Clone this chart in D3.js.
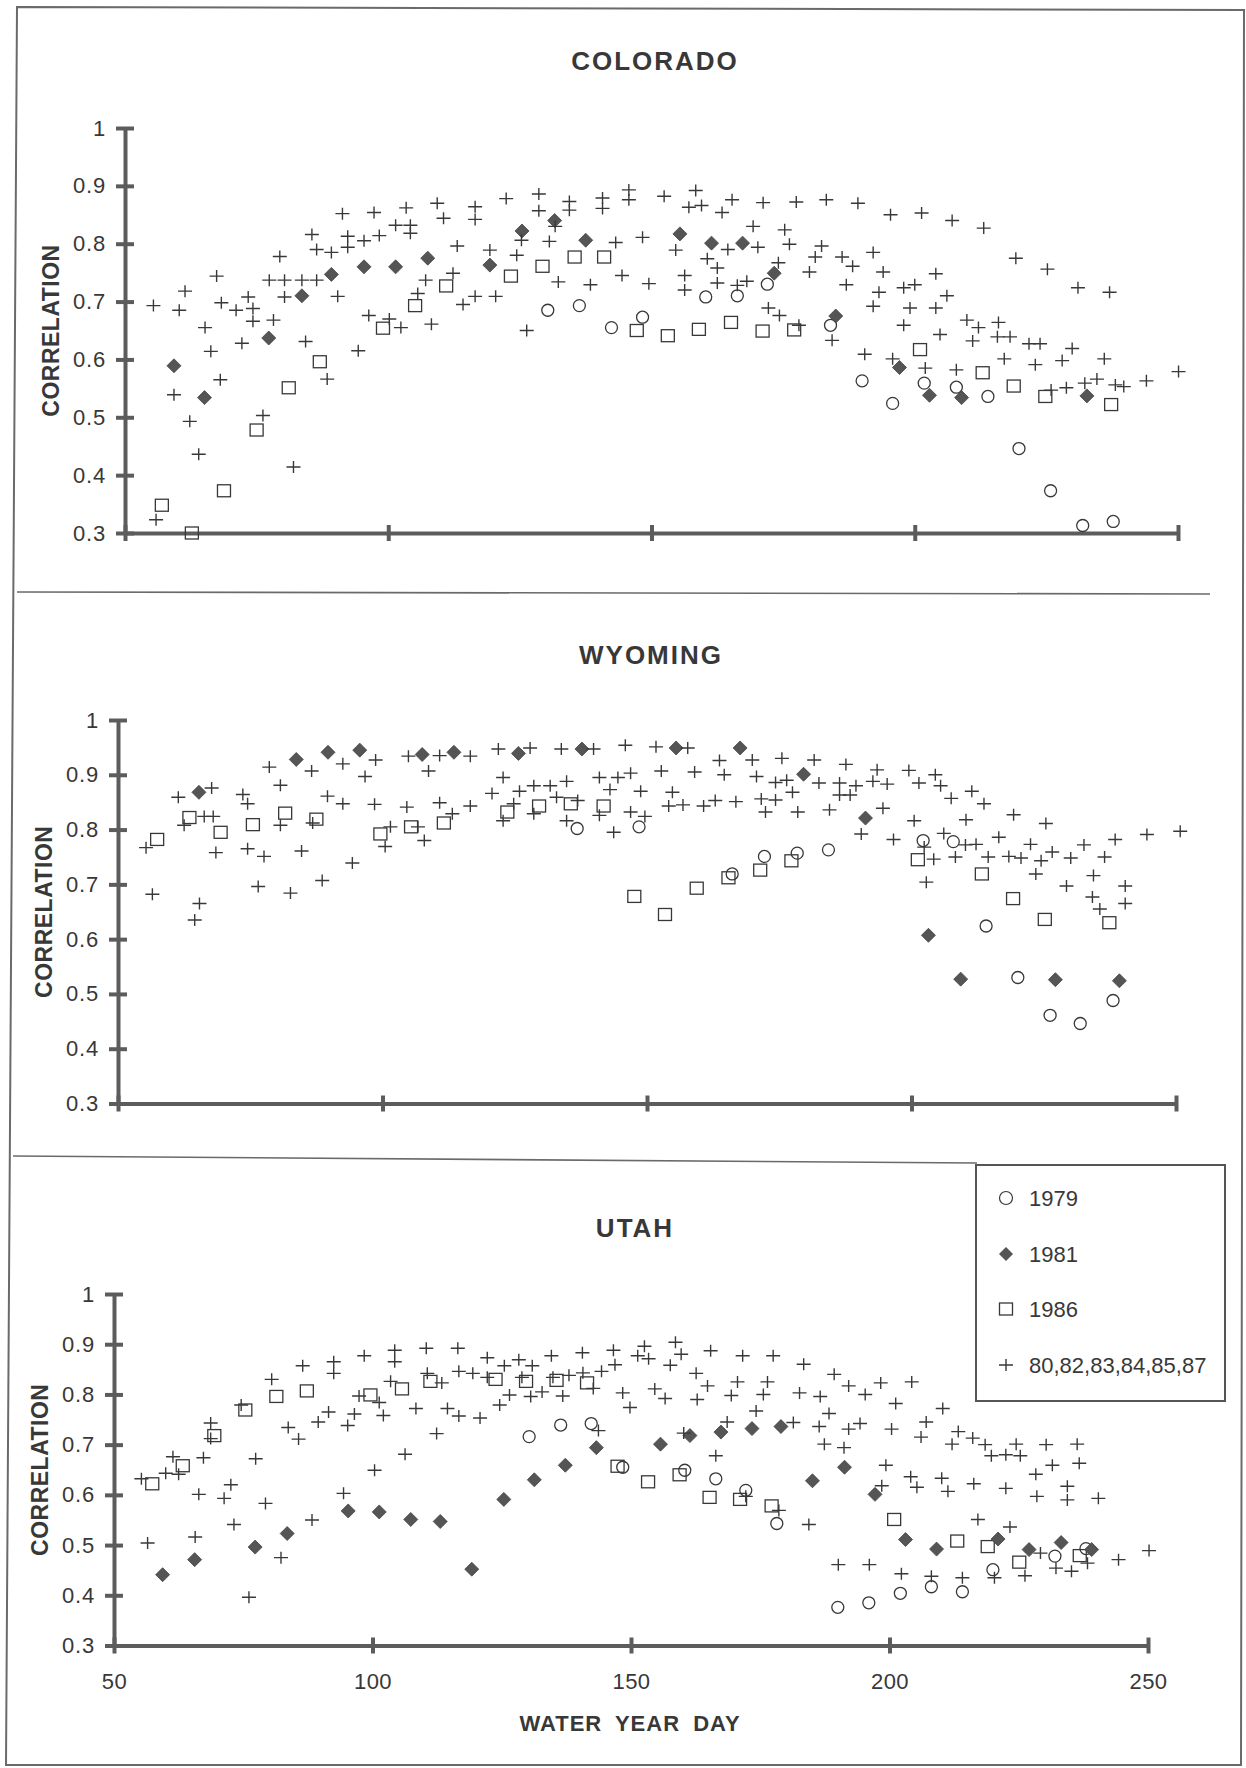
<!DOCTYPE html>
<html>
<head>
<meta charset="utf-8">
<script src="https://cdn.jsdelivr.net/npm/d3@7"></script>
<style>
body { margin: 0; background: #fff; }
svg text { font-family: "Liberation Sans", Arial, sans-serif; fill: #383838; }
</style>
</head>
<body>
<svg id="chart" width="1246" height="1768"></svg>
<script>
//Values: [water year day, correlation]
var co1979 = [[130.3,.685],[136.3,.693],[142.4,.655],[148.3,.673],[160.3,.708],[166.3,.710],[172.0,.730],[184.0,.659],[190.0,.563],[195.8,.524],[201.8,.559],[207.9,.552],[213.9,.536],[219.8,.446],[225.8,.373],[231.9,.313],[237.7,.320]];
var co1981 = [[59.3,.589],[65.1,.534],[77.3,.637],[83.6,.710],[89.2,.747],[95.4,.760],[101.4,.760],[107.5,.775],[119.3,.763],[125.4,.822],[131.6,.840],[137.5,.806],[155.4,.817],[161.4,.801],[167.3,.801],[173.3,.749],[185.0,.675],[197.1,.586],[202.8,.538],[208.9,.534],[232.7,.537]];
var co1986 = [[57.0,.348],[62.7,.300],[68.8,.373],[75.0,.478],[81.1,.551],[87.0,.596],[99.0,.654],[105.1,.693],[111.0,.727],[123.3,.744],[129.3,.761],[135.4,.777],[141.0,.777],[147.2,.650],[153.1,.641],[159.0,.652],[165.1,.664],[171.1,.649],[177.1,.651],[201.0,.617],[212.9,.577],[218.8,.554],[224.8,.536],[237.3,.522]];
var coOther = [[55.4,.693],[55.9,.323],[59.3,.539],[60.3,.685],[61.4,.718],[62.3,.493],[64.0,.436],[65.2,.655],[66.3,.614],[67.4,.744],[68.1,.565],[68.3,.698],[71.1,.685],[72.2,.628],[73.4,.708],[74.3,.688],[74.3,.666],[76.2,.503],[77.4,.737],[78.2,.668],[79.4,.778],[80.3,.737],[80.3,.708],[82.0,.414],[83.6,.737],[84.3,.631],[85.5,.816],[86.4,.790],[86.4,.737],[88.4,.566],[89.2,.785],[90.4,.709],[91.3,.852],[92.3,.813],[92.3,.794],[94.3,.615],[95.4,.805],[96.3,.676],[97.3,.854],[98.3,.814],[100.2,.670],[101.4,.832],[102.4,.655],[103.4,.862],[104.2,.832],[104.2,.818],[105.6,.714],[107.1,.737],[108.2,.661],[109.3,.870],[110.5,.844],[112.3,.749],[113.1,.796],[114.2,.695],[116.5,.864],[116.5,.842],[116.5,.709],[119.3,.789],[120.4,.709],[122.4,.878],[124.4,.780],[125.3,.806],[126.3,.650],[128.6,.886],[128.6,.857],[130.6,.804],[131.7,.830],[132.3,.734],[134.4,.873],[134.4,.858],[138.4,.729],[140.7,.879],[140.7,.861],[143.2,.802],[144.4,.745],[145.7,.893],[145.7,.876],[148.3,.811],[149.5,.731],[152.4,.882],[154.6,.789],[156.3,.745],[156.3,.720],[157.1,.863],[158.4,.892],[159.5,.866],[160.6,.774],[162.5,.758],[162.5,.732],[163.4,.854],[164.5,.790],[165.3,.876],[166.3,.728],[168.1,.735],[169.3,.830],[170.2,.794],[171.2,.871],[172.2,.689],[174.1,.767],[174.3,.676],[175.3,.824],[176.2,.799],[177.5,.872],[178.0,.659],[180.0,.751],[181.1,.777],[182.3,.796],[183.2,.876],[184.3,.633],[186.2,.777],[187.0,.729],[188.2,.761],[189.2,.870],[190.5,.609],[192.1,.785],[192.1,.692],[193.2,.716],[194.0,.751],[195.4,.850],[195.8,.601],[197.9,.724],[197.9,.659],[199.1,.689],[200.0,.729],[201.3,.853],[202.0,.585],[204.0,.748],[204.0,.689],[204.8,.643],[206.1,.710],[207.1,.840],[207.9,.582],[209.9,.668],[211.0,.632],[212.1,.655],[213.1,.827],[215.7,.639],[215.9,.664],[217.0,.601],[218.1,.639],[219.2,.775],[221.7,.627],[222.9,.591],[223.8,.627],[225.2,.756],[225.9,.547],[228.0,.598],[228.8,.551],[229.9,.619],[231.0,.724],[232.3,.559],[234.6,.566],[236.0,.601],[237.0,.716],[238.1,.556],[239.7,.553],[244.0,.563],[250.1,.579]];

var wy1979 = [[136.8,.802],[148.5,.805],[166.1,.719],[172.2,.751],[178.4,.757],[184.3,.763],[202.2,.780],[207.9,.778],[214.1,.624],[220.1,.530],[226.2,.461],[231.9,.446],[238.1,.488]];
var wy1981 = [[65.3,.868],[83.7,.928],[89.7,.941],[95.7,.945],[107.5,.937],[113.5,.941],[125.7,.939],[137.7,.947],[155.5,.949],[167.6,.949],[179.6,.901],[191.3,.821],[203.2,.607],[209.3,.527],[227.2,.526],[239.3,.524]];
var wy1986 = [[57.4,.782],[63.5,.822],[69.4,.795],[75.5,.809],[81.6,.830],[87.5,.819],[99.6,.792],[105.4,.805],[111.6,.812],[123.6,.832],[129.6,.843],[135.6,.847],[141.8,.843],[147.6,.678],[153.4,.645],[159.4,.693],[165.4,.712],[171.4,.726],[177.3,.743],[201.2,.745],[213.3,.719],[219.2,.674],[225.2,.636],[237.4,.630]];
var wyOther = [[55.3,.767],[56.5,.682],[61.4,.859],[62.5,.808],[64.5,.635],[65.4,.665],[66.3,.824],[67.7,.876],[68.0,.824],[68.5,.758],[73.6,.864],[74.5,.847],[74.5,.765],[76.5,.696],[77.6,.751],[78.6,.914],[80.7,.881],[80.7,.808],[82.6,.684],[84.7,.761],[86.6,.907],[86.8,.812],[88.6,.707],[89.6,.861],[92.5,.847],[92.5,.920],[94.3,.739],[96.7,.897],[98.5,.846],[98.7,.927],[100.5,.769],[101.5,.805],[104.6,.841],[104.9,.934],[106.7,.805],[107.9,.780],[108.7,.907],[110.8,.935],[110.8,.849],[113.2,.829],[116.6,.934],[116.6,.843],[120.7,.866],[121.9,.947],[122.8,.895],[122.8,.816],[124.8,.847],[125.9,.870],[127.9,.949],[128.6,.880],[128.6,.829],[131.7,.880],[132.9,.859],[133.8,.947],[134.8,.888],[134.8,.816],[136.9,.853],[139.9,.947],[141.0,.895],[141.0,.826],[143.0,.873],[143.7,.795],[144.5,.895],[145.9,.954],[146.9,.903],[146.9,.832],[148.8,.870],[149.6,.824],[151.7,.951],[152.7,.907],[154.1,.843],[154.8,.868],[156.8,.845],[157.7,.949],[159.0,.905],[160.7,.843],[162.9,.853],[163.7,.926],[164.6,.900],[166.8,.851],[169.9,.927],[170.7,.897],[171.6,.856],[172.4,.832],[174.3,.886],[174.3,.854],[175.5,.930],[176.4,.890],[177.5,.868],[178.5,.832],[181.6,.927],[182.5,.885],[184.5,.836],[186.4,.885],[186.4,.863],[187.6,.919],[188.4,.863],[189.5,.880],[190.5,.792],[192.7,.888],[193.5,.909],[194.6,.839],[195.4,.883],[196.6,.782],[199.5,.908],[200.5,.816],[201.4,.885],[202.4,.768],[202.8,.704],[204.2,.746],[204.5,.900],[205.5,.880],[206.1,.793],[207.5,.857],[208.3,.750],[210.2,.772],[210.3,.818],[211.4,.870],[212.2,.773],[213.7,.847],[214.5,.750],[216.5,.786],[218.4,.751],[219.3,.827],[220.7,.748],[222.5,.773],[223.5,.719],[224.5,.743],[225.4,.811],[226.6,.759],[229.3,.697],[230.1,.748],[232.6,.772],[234.2,.677],[234.4,.716],[235.6,.655],[236.5,.750],[238.5,.782],[240.4,.697],[240.4,.665],[244.5,.791],[250.8,.797]];

var ut1979 = [[130.3,.716],[136.4,.739],[142.3,.742],[148.4,.655],[160.4,.649],[166.4,.632],[172.2,.609],[178.2,.543],[190.0,.376],[196.0,.385],[202.1,.404],[208.1,.417],[214.1,.407],[220.0,.451],[232.0,.478],[238.0,.493]];
var ut1981 = [[59.4,.441],[65.6,.471],[77.3,.496],[83.5,.523],[95.3,.568],[101.3,.566],[107.4,.551],[113.1,.547],[119.2,.452],[125.4,.591],[131.3,.630],[137.3,.659],[143.3,.694],[155.7,.701],[161.4,.718],[167.4,.725],[173.4,.732],[179.0,.736],[185.1,.628],[191.3,.655],[197.2,.601],[203.1,.511],[209.1,.492],[221.0,.512],[227.0,.491],[233.2,.505],[239.1,.491]];
var ut1986 = [[57.4,.622],[63.3,.658],[69.4,.718],[75.4,.769],[81.4,.796],[87.3,.807],[99.6,.799],[105.7,.811],[111.2,.826],[123.8,.830],[129.7,.826],[135.6,.828],[141.5,.823],[147.4,.657],[153.3,.626],[159.4,.640],[165.2,.595],[171.1,.591],[177.2,.578],[200.9,.551],[213.1,.508],[219.0,.497],[225.1,.466],[236.8,.479]];
var utOther = [[55.3,.632],[56.5,.504],[60.0,.643],[61.4,.676],[62.5,.641],[65.7,.516],[66.4,.601],[67.3,.674],[68.7,.743],[68.7,.712],[71.3,.593],[72.6,.620],[73.2,.541],[74.6,.779],[76.1,.396],[77.4,.672],[79.3,.583],[80.5,.830],[82.3,.475],[83.7,.734],[85.7,.711],[86.5,.857],[88.3,.550],[89.5,.745],[91.5,.765],[92.5,.865],[92.5,.842],[94.4,.603],[95.2,.738],[96.5,.761],[97.4,.797],[98.4,.877],[100.4,.649],[101.3,.784],[102.1,.758],[103.5,.826],[104.3,.888],[104.3,.865],[106.3,.681],[108.4,.772],[110.4,.892],[110.6,.842],[112.4,.722],[113.4,.823],[114.5,.772],[116.5,.892],[116.7,.846],[116.7,.757],[119.4,.842],[120.8,.753],[122.2,.873],[122.2,.834],[124.6,.779],[125.5,.857],[126.5,.799],[128.3,.869],[128.9,.834],[130.6,.796],[130.9,.857],[132.8,.805],[134.6,.877],[134.9,.834],[136.8,.797],[138.0,.838],[140.6,.883],[140.7,.843],[142.7,.812],[143.7,.728],[144.3,.846],[146.6,.888],[146.9,.859],[148.4,.803],[149.8,.774],[151.3,.877],[152.6,.896],[153.4,.871],[154.6,.811],[156.6,.792],[157.6,.858],[158.6,.904],[159.7,.880],[160.2,.723],[162.6,.842],[162.8,.790],[164.8,.817],[165.4,.887],[166.4,.678],[168.6,.745],[169.4,.798],[170.6,.825],[171.6,.877],[172.2,.597],[174.2,.767],[175.6,.800],[176.4,.825],[177.5,.877],[178.6,.569],[181.4,.744],[182.6,.803],[183.4,.860],[184.4,.541],[186.4,.736],[186.6,.796],[187.4,.701],[188.3,.762],[189.3,.840],[190.1,.461],[191.2,.694],[192.1,.817],[192.1,.731],[194.3,.742],[195.3,.800],[196.1,.461],[198.3,.823],[198.5,.618],[199.3,.659],[200.4,.731],[201.2,.782],[202.3,.443],[204.1,.636],[204.3,.825],[205.3,.615],[206.1,.715],[207.1,.745],[208.1,.438],[210.1,.633],[210.3,.772],[211.3,.607],[212.1,.701],[213.3,.726],[214.1,.435],[216.1,.713],[216.3,.622],[217.1,.551],[218.5,.700],[219.7,.678],[220.3,.435],[222.5,.680],[222.5,.613],[223.3,.536],[224.5,.701],[225.3,.678],[226.2,.439],[228.3,.641],[228.5,.597],[229.2,.484],[230.3,.700],[231.5,.659],[232.2,.454],[234.4,.617],[234.4,.590],[235.2,.448],[236.3,.701],[236.7,.663],[238.3,.464],[240.4,.593],[244.3,.471],[250.2,.489]];

var xTicks = [50, 100, 150, 200, 250];
var yTicks = [0.3, 0.4, 0.5, 0.6, 0.7, 0.8, 0.9, 1];
var legendLabels = ["1979", "1981", "1986", "80,82,83,84,85,87"];

var ink = "#383838";
var axisGray = "#5c5c5c";

//The three state panels (positions follow the scan, which is slightly uneven)
var panels = [
  {title: "COLORADO", c79: co1979, c81: co1981, c86: co1986, other: coOther,
   xr: [125, 1178], yr: [533, 128], tx: 655, ty: 61, xLabels: false},
  {title: "WYOMING", c79: wy1979, c81: wy1981, c86: wy1986, other: wyOther,
   xr: [118, 1176], yr: [1103.5, 720], tx: 651, ty: 655, xLabels: false},
  {title: "UTAH", c79: ut1979, c81: ut1981, c86: ut1986, other: utOther,
   xr: [114, 1148], yr: [1645.5, 1294], tx: 635, ty: 1228, xLabels: true}
];

var svg = d3.select("#chart");

//Page frame and panel separators
svg.append("path")
  .attr("d", "M17,7L1244,10L1241,1765L6,1765Z")
  .attr("fill", "none").attr("stroke", "#6a6a6a").attr("stroke-width", 2);
svg.append("line").attr("x1", 17).attr("y1", 592).attr("x2", 1210).attr("y2", 594)
  .attr("stroke", "#6a6a6a").attr("stroke-width", 1.6);
svg.append("line").attr("x1", 13).attr("y1", 1156).attr("x2", 977).attr("y2", 1163)
  .attr("stroke", "#6a6a6a").attr("stroke-width", 1.6);

var crossPath = "M-7,0H7M0,-6V6";
var diamondPath = "M0,-7L7,0L0,7L-7,0Z";

function drawPanel(p) {
  var x = d3.scaleLinear().domain([50, 250]).range(p.xr);
  var y = d3.scaleLinear().domain([0.3, 1]).range(p.yr);
  var g = svg.append("g");

  //title
  g.append("text")
    .attr("x", p.tx).attr("y", p.ty)
    .attr("text-anchor", "middle").attr("dominant-baseline", "central")
    .style("font-size", "26px").style("font-weight", "bold").style("letter-spacing", "2px")
    .text(p.title);

  //y axis
  var yAxis = d3.axisLeft(y).tickValues(yTicks)
    .tickFormat(function(d) { return d === 1 ? "1" : d3.format(".1f")(d); })
    .tickSize(9).tickSizeOuter(0).tickPadding(10);
  var gy = g.append("g").attr("transform", "translate(" + x(50) + ",0)").call(yAxis);
  gy.select(".domain").attr("stroke", axisGray).attr("stroke-width", 4);
  gy.selectAll(".tick line").attr("x1", 9).attr("stroke", axisGray).attr("stroke-width", 4);
  gy.selectAll(".tick text").style("font-size", "22px").style("letter-spacing", "0.8px").attr("fill", ink);

  //x axis
  var xAxis = d3.axisBottom(x).tickValues(xTicks)
    .tickFormat(p.xLabels ? d3.format("d") : function() { return ""; })
    .tickSize(8).tickSizeOuter(0).tickPadding(20);
  var gx = g.append("g").attr("transform", "translate(0," + y(0.3) + ")").call(xAxis);
  gx.select(".domain").attr("stroke", axisGray).attr("stroke-width", 4);
  gx.selectAll(".tick line").attr("y1", -8).attr("stroke", axisGray).attr("stroke-width", 4);
  gx.selectAll(".tick text").style("font-size", "22px").style("letter-spacing", "0.5px").attr("fill", ink);

  //y axis title
  var midY = (p.yr[0] + p.yr[1]) / 2;
  g.append("text")
    .attr("transform", "translate(" + (x(50) - 74) + "," + midY + ") rotate(-90)")
    .attr("text-anchor", "middle").attr("dominant-baseline", "central")
    .style("font-size", "23px").style("font-weight", "bold").style("letter-spacing", "0.5px")
    .text("CORRELATION");

  //1979 circles
  g.append("g").selectAll("circle").data(p.c79).enter().append("circle")
    .attr("cx", function(d) { return x(d[0]); })
    .attr("cy", function(d) { return y(d[1]); })
    .attr("r", 6)
    .attr("fill", "none").attr("stroke", ink).attr("stroke-width", 1.3);

  //1986 squares
  g.append("g").selectAll("rect").data(p.c86).enter().append("rect")
    .attr("x", function(d) { return x(d[0]) - 6.5; })
    .attr("y", function(d) { return y(d[1]) - 6; })
    .attr("width", 13).attr("height", 12)
    .attr("fill", "none").attr("stroke", ink).attr("stroke-width", 1.3);

  //1981 diamonds
  g.append("g").selectAll("path").data(p.c81).enter().append("path")
    .attr("transform", function(d) { return "translate(" + x(d[0]) + "," + y(d[1]) + ")"; })
    .attr("d", diamondPath)
    .attr("fill", "#555").attr("stroke", "#444").attr("stroke-width", 0.8);

  //other years, crosses
  g.append("g").selectAll("path").data(p.other).enter().append("path")
    .attr("transform", function(d) { return "translate(" + x(d[0]) + "," + y(d[1]) + ")"; })
    .attr("d", crossPath)
    .attr("fill", "none").attr("stroke", ink).attr("stroke-width", 1.4);
}

panels.forEach(drawPanel);

//X axis title
svg.append("text")
  .attr("x", 630).attr("y", 1723)
  .attr("text-anchor", "middle").attr("dominant-baseline", "central")
  .style("font-size", "22px").style("font-weight", "bold")
  .style("letter-spacing", "1px").style("word-spacing", "6px")
  .text("WATER YEAR DAY");

//Legend
var legend = svg.append("g");
legend.append("rect")
  .attr("x", 976).attr("y", 1165).attr("width", 249).attr("height", 236)
  .attr("fill", "#fff").attr("stroke", "#555").attr("stroke-width", 2);

var rowY = [1198, 1254, 1309, 1365];
var markers = [
  function(s) { s.append("circle").attr("r", 6.5).attr("fill", "none").attr("stroke", ink).attr("stroke-width", 1.2); },
  function(s) { s.append("path").attr("d", diamondPath).attr("fill", "#555"); },
  function(s) { s.append("rect").attr("x", -6.5).attr("y", -6).attr("width", 13).attr("height", 12).attr("fill", "none").attr("stroke", ink).attr("stroke-width", 1.3); },
  function(s) { s.append("path").attr("d", crossPath).attr("fill", "none").attr("stroke", ink).attr("stroke-width", 1.4); }
];

legendLabels.forEach(function(lab, i) {
  var row = legend.append("g").attr("transform", "translate(0," + rowY[i] + ")");
  markers[i](row.append("g").attr("transform", "translate(1006,0)"));
  row.append("text")
    .attr("x", 1029).attr("y", 0)
    .attr("dominant-baseline", "central")
    .style("font-size", "22px")
    .text(lab);
});
</script>
</body>
</html>
